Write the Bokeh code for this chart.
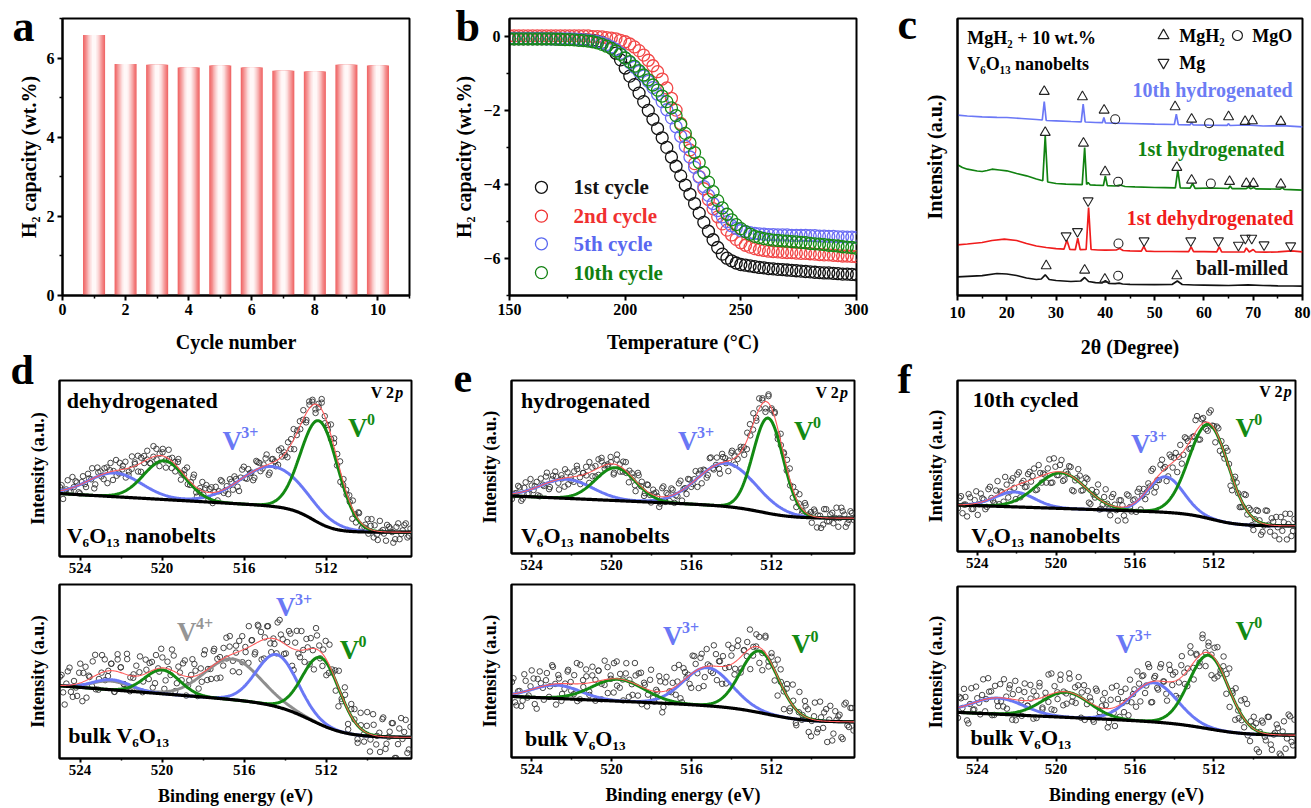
import numpy as np
from bokeh.plotting import figure
from bokeh.models import Label, FixedTicker, Range1d, GridBox
from bokeh.layouts import row, column
from bokeh.core.properties import value
from bokeh.embed import file_html
from bokeh.resources import INLINE

FONT = "Liberation Serif"

# ---------------- (a) cycling capacity ----------------
cycle_number = [1, 2, 3, 4, 5, 6, 7, 8, 9, 10]
h2_capacity = [6.58, 5.85, 5.83, 5.76, 5.81, 5.76, 5.68, 5.66, 5.83, 5.81]

# ---------------- (b) dehydrogenation curves ----------------
temperature = [150, 152, 154, 156, 158, 160, 162, 164, 166, 168, 170, 172, 174, 176, 178, 180,
               182, 184, 186, 188, 190, 192, 194, 196, 198, 200, 202, 204, 206, 208, 210, 212,
               214, 216, 218, 220, 222, 224, 226, 228, 230, 232, 234, 236, 238, 240, 242, 244,
               246, 248, 250, 252, 254, 256, 258, 260, 262, 264, 266, 268, 270, 272, 274, 276,
               278, 280, 282, 284, 286, 288, 290, 292, 294, 296, 298, 300]
cycle_1st = [-0.05, -0.05, -0.05, -0.05, -0.05, -0.05, -0.05, -0.05, -0.05, -0.05, -0.05, -0.06, -0.06, -0.06, -0.06, -0.06,
             -0.07, -0.08, -0.09, -0.11, -0.15, -0.21, -0.30, -0.44, -0.62, -0.84, -1.06, -1.29, -1.52, -1.75, -1.99, -2.23,
             -2.48, -2.73, -2.99, -3.25, -3.50, -3.76, -4.01, -4.26, -4.51, -4.77, -5.02, -5.26, -5.49, -5.70, -5.88, -5.99,
             -6.06, -6.12, -6.16, -6.18, -6.20, -6.22, -6.24, -6.25, -6.27, -6.28, -6.29, -6.30, -6.31, -6.32, -6.33, -6.34,
             -6.35, -6.36, -6.37, -6.38, -6.39, -6.39, -6.40, -6.41, -6.42, -6.42, -6.43, -6.44]
cycle_2nd = [0.03, 0.03, 0.03, 0.03, 0.03, 0.03, 0.03, 0.03, 0.03, 0.03, 0.03, 0.03, 0.03, 0.03, 0.03, 0.03,
             0.03, 0.03, 0.01, 0.01, 0.0, -0.02, -0.03, -0.05, -0.09, -0.13, -0.19, -0.27, -0.37, -0.49, -0.63, -0.78,
             -0.94, -1.14, -1.38, -1.66, -1.98, -2.34, -2.70, -3.06, -3.43, -3.78, -4.11, -4.40, -4.65, -4.87, -5.06, -5.23,
             -5.36, -5.48, -5.57, -5.64, -5.69, -5.73, -5.76, -5.78, -5.80, -5.81, -5.82, -5.83, -5.84, -5.84, -5.85, -5.86,
             -5.86, -5.87, -5.88, -5.89, -5.90, -5.90, -5.91, -5.92, -5.93, -5.93, -5.94, -5.95]
cycle_5th = [-0.04, -0.04, -0.04, -0.04, -0.04, -0.04, -0.04, -0.04, -0.05, -0.05, -0.05, -0.05, -0.05, -0.05, -0.06, -0.07,
             -0.08, -0.09, -0.11, -0.13, -0.16, -0.21, -0.27, -0.34, -0.44, -0.57, -0.69, -0.82, -0.94, -1.06, -1.20, -1.37,
             -1.55, -1.75, -1.97, -2.19, -2.43, -2.69, -2.96, -3.25, -3.53, -3.79, -4.05, -4.29, -4.51, -4.70, -4.87, -5.00,
             -5.11, -5.18, -5.24, -5.27, -5.30, -5.32, -5.33, -5.34, -5.35, -5.35, -5.36, -5.36, -5.36, -5.37, -5.37, -5.37,
             -5.37, -5.38, -5.38, -5.39, -5.39, -5.40, -5.40, -5.41, -5.41, -5.42, -5.42, -5.43]
cycle_10th = [-0.05, -0.05, -0.05, -0.05, -0.05, -0.05, -0.05, -0.05, -0.05, -0.05, -0.06, -0.06, -0.07, -0.07, -0.08, -0.09,
              -0.10, -0.11, -0.13, -0.16, -0.20, -0.25, -0.31, -0.38, -0.47, -0.57, -0.67, -0.79, -0.91, -1.03, -1.16, -1.30,
              -1.44, -1.60, -1.75, -1.92, -2.13, -2.37, -2.61, -2.87, -3.13, -3.40, -3.67, -3.93, -4.19, -4.43, -4.63, -4.80,
              -4.95, -5.08, -5.19, -5.27, -5.34, -5.40, -5.43, -5.46, -5.48, -5.50, -5.51, -5.52, -5.53, -5.54, -5.55, -5.56,
              -5.57, -5.59, -5.60, -5.61, -5.62, -5.64, -5.65, -5.66, -5.68, -5.69, -5.70, -5.72]

# ---------------- (c) XRD patterns (offset intensities) ----------------
ballmilled_2theta = [10, 12, 15, 18, 20, 22, 24, 26, 27, 27.8, 28.6, 30, 33, 35, 35.8, 36.6, 38, 39.3, 40, 40.7,
                     42, 42.8, 43.5, 45, 50, 53.6, 54.6, 55.6, 58, 60, 63, 65, 69, 72, 75, 78, 80]
ballmilled_int = [18.7, 19.2, 19.8, 22.0, 21.5, 20.0, 17.5, 16.0, 16.5, 20.7, 16.0, 15.0, 14.0, 14.5, 18.0, 14.0,
                  12.8, 12.5, 14.7, 12.2, 11.8, 12.3, 11.5, 11.2, 10.8, 11.2, 14.5, 11.0, 10.5, 10.4, 10.2, 10.0,
                  10.6, 10.0, 9.7, 9.5, 9.3]
dehyd_2theta = [10, 12, 15, 17, 19.5, 22, 24, 26, 28, 30, 31.6, 32.2, 32.8, 33.9, 34.4, 34.9, 36.1, 36.6, 37.1,
                38.5, 40, 42.2, 42.9, 43.6, 45, 47.3, 47.8, 48.3, 50, 53, 56.9, 57.4, 57.9, 60, 62.6, 63.1, 63.6,
                66, 68.2, 68.6, 69.2, 70.0, 70.5, 72.5, 75, 77.8, 80]
dehyd_int = [50.7, 51.5, 53.0, 55.0, 56.3, 55.0, 52.0, 49.5, 48.0, 46.8, 46.3, 55.3, 46.0, 45.8, 57.3, 45.8, 46.0,
             88.0, 46.0, 45.5, 45.3, 45.5, 47.0, 45.0, 44.7, 44.4, 49.0, 44.3, 44.0, 44.0, 43.8, 48.7, 43.8, 43.8,
             43.6, 48.7, 43.6, 43.5, 43.6, 47.5, 43.6, 46.0, 43.5, 43.4, 43.6, 44.6, 43.7]
hyd1_2theta = [10, 11, 12, 14, 15, 16, 17, 18.5, 20, 22, 24, 26, 27.3, 27.8, 28.3, 30, 32, 35.3, 35.8, 36.2,
               36.5, 36.9, 38, 39.6, 40, 40.4, 42, 42.9, 44, 46, 50, 52, 54.2, 54.7, 55.2, 57.2, 57.7, 58.2, 61.5,
               65, 65.3, 65.7, 68.6, 69, 69.5, 70.1, 70.6, 75.5, 75.9, 76.3, 80]
hyd1_int = [130.7, 128.0, 126.3, 124.5, 124.0, 125.0, 126.3, 125.5, 124.7, 122.0, 119.7, 116.5, 114.8, 159.7,
            113.5, 112.0, 111.3, 110.8, 148.0, 111.0, 113.0, 110.7, 110.3, 110.0, 119.7, 109.8, 109.5, 110.5,
            109.0, 108.6, 108.0, 107.8, 107.6, 125.3, 107.5, 107.4, 112.0, 107.2, 107.5, 107.0, 109.7, 106.9,
            106.8, 108.5, 106.8, 108.0, 106.6, 106.4, 108.0, 106.2, 105.3]
hyd10_2theta = [10, 12, 15, 18, 20, 23, 26, 27.2, 27.6, 28.0, 30, 33, 35.1, 35.5, 35.9, 38, 39.4, 39.7, 40.0, 42,
                45, 50, 54.0, 54.4, 54.8, 57.2, 57.5, 57.8, 61, 64.7, 65, 65.3, 68.5, 69.5, 72, 75.8, 80]
hyd10_int = [180.3, 179.5, 178.7, 178.2, 178.0, 177.0, 176.0, 175.5, 194.0, 175.0, 174.7, 174.0, 173.6, 191.3,
             173.5, 173.0, 172.8, 178.0, 172.7, 172.3, 172.0, 171.3, 171.0, 181.3, 170.8, 170.7, 173.0, 170.6,
             170.3, 170.2, 171.8, 170.0, 170.5, 170.3, 169.5, 169.8, 168.7]
# phase markers (2theta, height)
mgh2_2theta = [27.6, 35.35, 39.75, 54.15, 57.5, 65.0, 68.35, 69.84, 75.6,
               27.8, 35.56, 39.95, 54.5, 57.5, 65.2, 68.6, 70.04, 75.6,
               28.0, 35.8, 39.9, 54.5]
mgh2_pos = [204, 198.7, 185.3, 188.7, 176.3, 178.7, 174, 174.7, 174,
            163, 152.3, 123.7, 128, 115.3, 114, 112, 112, 111.3,
            29.7, 25.3, 16.3, 19.7]
mgo_2theta = [42.0, 61.05, 42.6, 61.4, 42.66, 42.6]
mgo_pos = [176.3, 172.3, 113.7, 112, 52, 19.7]
mg_2theta = [32.04, 34.34, 36.5, 47.86, 57.33, 62.94, 67.0, 68.4, 69.7, 72.2, 77.6]
mg_pos = [59.7, 64, 94.7, 54.7, 54.7, 54.7, 50.3, 57.3, 57.3, 50.7, 49.7]

# ---------------- (d-f) XPS V 2p fits ----------------
# background: [offset, step, slope, step centre (eV), step width (eV)]
# peaks: [centre (eV), height, sigma (eV)]
# scatter: deviations of the measured points from the fit envelope (two interleaved sweeps)
d_top_bg = [13.8, 13.7, 0.667, 512.6, 0.55]
d_top_v3 = [[522.3, 13.5, 1.3], [514.6, 22.6, 1.6]]
d_top_v0 = [[519.9, 22.0, 1.0], [512.33, 58.0, 0.9]]
d_top_noise = [2, -3, 4, -1, 5, -4, 0, 3, -5, 1, 6, -2, -4, 2, 5, -1, -3, 4, 0, -6, 3, 1, -2, 5, -4, 2, 6, -3, 0, 4,
               -1, -5, 3, 2, -4, 5, -2, 1, -6, 3, 4, -1, 0, 5, -3, 2, -5, 6, 1, -2, 4, -4, 0, 3, -1, 5, -6, 2, -3, 4,
               1, -2, 6, -5, 0, 3, -4, 2, 5, -1, -3, 4, -2, 6, 0, -5, 3, 1, -4, 5, -2, 2, -6, 4, 0, -3, 5, -1, 3, -4,
               1, 6, -2, -5, 2, 4, -3, 0, 5, -6, 3, -1, 2, -4, 6, 1, -3, 4, -5, 2, 0, -2, 5, -1, 3]
d_top_noise2 = [-2, 5, 1, -4, 3, -6, 2, 4, -1, 0, -5, 3, 6, -3, 1, -2, 4, -4, 5, 0, -1, 2, -6, 3, 5, -2, 0, -4, 6, 1,
                -3, 2, 4, -5, 0, 3, -1, 6, -2, -4, 1, 5, -3, 0, 2, -6, 4, -1, 3, 5, -5, 0, -2, 6, 1, -3, 4, 2, -4, -1,
                5, 0, 3, -6, 2, 4, -2, 1, -5, 6, 0, -3, 3, -1, 5, -4, 2, 0, -6, 4, 1, -2, 6, -3, 0, 3, -5, 5, 2, -1,
                -4, 4, 0, -2, 6, -5, 1, 3, -3, 2, 5, -6, 0, 4, -1, 1, -4, 3, 6, -2, 0, -5, 2]
d_bot_bg = [12.1, 18.3, 0.92, 512.6, 0.9]
d_bot_v4 = [[522.5, 5.0, 0.9], [516.57, 23.4, 1.35]]
d_bot_v3 = [[522.45, 5.8, 0.9], [514.4, 30.0, 1.0]]
d_bot_v0 = [[520.0, 13.7, 0.85], [512.25, 38.5, 0.9]]
d_bot_noise = [6, -9, 3, 11, -4, -12, 8, 0, -7, 10, 2, -5, 12, -10, 4, -2, 9, -8, 1, 7, -11, 5, -3, 10, -6, 0, 12,
               -9, 3, -4, 8, -12, 6, 1, -7, 11, -2, 4, -10, 9, -5, 2, 12, -8, 0, -3, 7, -11, 5, 10, -6, 3, -9, 1, 8,
               -12, 4, -4, 11, -1, 6, -10, 2, 9, -7, 0, 12, -5, -8, 3, 10, -2, -11, 7, 1, -6, 9, -3, 4, -12, 11, 0,
               -8, 5, -4, 8, -10, 2, 6, -1, -9, 12, -6, 3, 7, -12, 4, 0, -5, 10, -3, -8, 9, 1, -10, 5, 11, -7, 2, -4,
               8, -11, 6]
d_bot_noise2 = [-7, 10, -1, 5, -12, 8, 3, -4, 11, -9, 0, 6, -3, 12, -6, 2, -10, 7, 4, -8, 9, -2, -11, 5, 1, -5, 10,
                -7, 3, 12, -1, -9, 6, 0, -4, 11, -12, 8, 2, -6, 4, 10, -3, -8, 7, 1, -11, 9, -5, 3, 12, -2, -7, 6, 0,
                -10, 5, 11, -4, 2, -9, 8, -1, -6, 10, 3, -12, 7, 1, -5, 9, -3, 4, -11, 12, 0, -7, 6, -2, 8, -10, 5, 2,
                -4, 11, -8, 1, -1, 9, -6, 3, 10, -12, 4, -3, 7, 0, -9, 12, -5, 2, 8, -11, 6, -2, -7, 10, 1, -4, 5]
e_top_bg = [20.4, 6.3, 0.52, 512.3, 0.8]
e_top_v3 = [[522.25, 11.0, 1.3], [514.25, 25.0, 1.45]]
e_top_v0 = [[519.8, 19.0, 1.0], [512.17, 55.0, 0.75]]
e_top_noise = [-1, 4, -3, 2, 6, -5, 0, 3, -2, 5, -4, 1, -6, 4, 2, -1, 5, -3, 0, 3, -5, 6, -2, 1, 4, -4, 2, -1, 5, -6,
               3, 0, -3, 6, -2, 4, -5, 1, 2, -4, 5, 0, -1, 3, -6, 4, -2, 6, -3, 1, -5, 2, 5, -1, 3, -4, 0, 6, -2, -5,
               4, 1, -3, 5, -6, 2, 3, -1, 4, -4, 0, 6, -3, 2, -5, 5, -2, 1, 3, -6, 4, -1, 0, 5, -4, 2, -3, 6, -1, 1,
               -5, 4, 3, -2, -4, 5, 0, -6, 2, 3, -3, 6, -1, 4, -5, 1, 2, -2, 5, -4, 3, 0, -1]
e_top_noise2 = [3, -1, -5, 4, 0, 6, -3, 2, -2, 5, -6, 1, 3, -4, 0, 4, -1, 6, -5, 2, -3, 5, 1, -2, -6, 3, 0, 4, -4, 2,
                6, -1, -3, 5, -5, 0, 3, -2, 1, 4, -6, 2, 5, -3, 0, -1, 6, -4, 2, 3, -5, 1, -2, 4, 0, -6, 5, -1, 3, -3,
                2, 6, -4, 0, 1, -5, 4, -2, 3, 5, -6, 0, 2, -1, 4, -3, 6, -5, 1, 0, -2, 3, 5, -4, 2, -6, 4, 1, -1, 6,
                -3, 0, 3, -5, 2, -2, 5, 1, -4, 4, 0, -6, 3, -1, 6, -2, 2, -5, 4, 0, -3]
e_bot_bg = [20.5, 8.13, 0.513, 512.0, 1.0]
e_bot_v3 = [[522.75, 7.7, 1.2], [515.2, 22.0, 1.2]]
e_bot_v0 = [[519.67, 12.6, 1.3], [512.6, 35.6, 0.95]]
e_bot_noise = [-5, 8, -2, 10, -9, 3, 6, -11, 1, 7, -4, 11, -7, 2, -10, 5, 9, -3, 0, -8, 12, -6, 4, -1, 8, -11, 3, 6,
               -5, 10, -2, -9, 7, 0, -12, 5, 2, -7, 11, -4, 9, -1, -10, 6, 3, -8, 12, -3, 1, -6, 8, -11, 4, 10, -5,
               0, 7, -9, 2, 11, -2, -7, 5, -12, 9, 1, -4, 6, -10, 3, 8, -6, 12, -1, -9, 4, 0, -5, 10, -8, 2, 7, -3,
               -11, 6, 1, 9, -7, 4, -2, 11, -10, 5, -4, 8, 0, -6, 3, -12, 10, -1, 7, -8, 2, 5, -9, 11, -3, 6, -5, 1,
               -7, 9]
e_bot_noise2 = [8, -3, 11, -10, 4, 1, -7, 9, -12, 5, 2, -5, 10, -1, -8, 6, 0, 12, -9, 3, -4, 7, -11, 1, 10, -6, 4, -2,
                9, -12, 6, 0, -5, 11, -3, 2, -9, 8, -7, 5, 12, -1, -10, 3, 7, -4, 0, 10, -11, 6, -2, 9, -8, 1, 4, -12,
                11, -5, 3, -1, 8, -9, 6, 0, -6, 12, -3, 2, -10, 7, 5, -7, 1, 10, -12, 3, -4, 9, 0, -8, 11, -2, 6, -11,
                4, -5, 8, 2, -9, 12, -6, 1, 7, -3, -10, 5, 0, 11, -7, 3, -1, 9, -12, 6, 2, -4, 10, -8, 1, -5, 7]
f_top_bg = [15.0, 7.19, 0.386, 512.0, 0.7]
f_top_v3 = [[522.1, 8.7, 1.0], [514.44, 20.8, 0.9]]
f_top_v0 = [[519.75, 20.8, 1.25], [512.25, 55.0, 1.0]]
f_top_noise = [4, -6, 1, 7, -3, -8, 5, 2, -4, 8, -1, -7, 6, 0, -5, 3, 8, -2, -6, 4, 1, -8, 7, -3, 2, 5, -7, 0, 6, -4,
               3, -8, 8, -1, -5, 2, 7, -6, 0, 4, -3, 6, -8, 1, 5, -2, -7, 8, 3, -4, 0, 6, -6, 2, -1, 7, -5, 4, -8, 1,
               5, -3, 8, -2, -6, 3, 0, -7, 6, 2, -4, 7, -1, -8, 5, 1, -5, 4, -2, 8, -6, 3, 0, -4, 7, -7, 2, 5, -3, 1,
               -8, 6, -1, 4, -5, 8, 0, -6, 3, -2, 7, -4, 1, 5, -7, 2, -3, 6, 0, -5, 4]
f_top_noise2 = [-3, 7, -8, 2, 5, -1, -6, 4, 0, 8, -5, 1, 6, -7, 3, -2, 7, -4, 0, 5, -8, 2, 6, -3, -6, 4, 1, 8, -5, -1,
                3, -7, 7, 0, -4, 5, -2, 6, -8, 2, 4, -6, 1, 7, -3, -5, 8, 0, -1, 3, -7, 5, 2, -4, 6, -8, 1, 4, -2, 7,
                -6, 0, 3, -5, 8, -1, 2, -7, 6, -3, 4, 1, -8, 5, 0, -4, 7, -2, 3, -6, 8, -5, 1, 2, -7, 6, -1, 4, -3, 0,
                7, -8, 5, -2, 3, -6, 1, 8, -4, 0, 6, -5, 2, -1, 7, -3, 4, -7, 0, 5, -2]
f_bot_bg = [13.0, 6.55, 0.527, 512.0, 1.0]
f_bot_v3 = [[522.95, 9.4, 1.3], [515.03, 22.9, 1.18]]
f_bot_v0 = [[519.5, 14.7, 1.2], [512.25, 43.0, 1.0]]
f_bot_noise = [9, -4, 12, -8, 2, -11, 6, 0, -6, 10, -2, 7, -12, 4, 1, -9, 11, -5, 8, -1, -10, 3, 12, -7, 5, -3, 9,
               -12, 0, 6, -8, 11, -4, 2, -10, 8, 1, -6, 12, -2, -9, 4, 7, -11, 0, 10, -5, 3, -12, 9, -1, 6, -8, 11, 2,
               -4, -10, 7, 0, -7, 12, -3, 5, -11, 9, 1, -6, 10, -9, 3, -2, 8, -12, 6, 4, -5, 11, -1, -8, 7, 0, -10,
               12, -4, 2, -7, 9, -11, 5, 1, -3, 10, -9, 6, -12, 3, 8, -6, 11, -2, -5, 7, -10, 4, 0, 12, -8, 2, -4, 9,
               -11, 5, -1, 6]
f_bot_noise2 = [-6, 11, -2, 8, -12, 4, 1, -9, 10, -4, 6, 0, -11, 7, 3, -7, 12, -3, -5, 9, 2, -10, 5, 11, -1, -8, 6,
                -12, 4, 0, 9, -6, 3, -3, 12, -9, 1, 7, -11, 5, -2, 10, -7, 0, 8, -4, 2, -12, 11, -5, 6, 3, -9, 0, 10,
                -1, -6, 7, 4, -11, 12, -8, 2, 5, -3, 9, -10, 1, 6, -12, 3, 11, -5, -2, 8, -7, 0, 10, -4, 4, -9, 12, -1,
                -6, 7, 2, -11, 9, -3, 5, 0, -8, 11, -12, 6, 1, -5, 8, -2, -10, 4, 12, -7, 3, -1, 9, -4, 0, -9, 10, 5, -6]

# ---------------- colours ----------------
C_BLUE = "#6a78f5"
C_GREEN = "#138a13"
C_GRAY = "#8e8e8e"


def base_style(p, tick_size="16px"):
    p.outline_line_color = "black"
    p.outline_line_width = 2
    p.xgrid.visible = False
    p.ygrid.visible = False
    p.background_fill_color = "white"
    p.border_fill_color = "white"
    for ax in p.axis:
        ax.axis_line_width = 2
        ax.axis_line_color = "black"
        ax.major_tick_line_width = 2
        ax.minor_tick_line_width = 1.5
        ax.major_tick_in = 0
        ax.minor_tick_in = 0
        ax.major_tick_out = 5
        ax.minor_tick_out = 3
        ax.major_label_text_font = FONT
        ax.major_label_text_font_style = "bold"
        ax.major_label_text_font_size = tick_size
        ax.major_label_text_color = "black"
        ax.axis_label_text_font = FONT
        ax.axis_label_text_font_style = "bold"
        ax.axis_label_text_color = "black"


def txt(p, x, y, s, size, color="black", align="left", baseline="middle", style="bold", xo=0, yo=0):
    p.add_layout(Label(x=x, y=y, text=s, text_font=FONT,
                       text_font_size=f"{size}px", text_font_style=style, text_color=color,
                       text_align=align, text_baseline=baseline, x_offset=xo, y_offset=yo))


# ================= (a) =================
pa = figure(width=437, height=362, x_range=(0, 11), y_range=(0, 7),
            min_border_left=62, min_border_right=28, min_border_top=16, min_border_bottom=66,
            output_backend="svg", toolbar_location=None)
base_style(pa)
bar_layers = [(0.70, "#f06a6a"), (0.62, "#f27c7c"), (0.54, "#f49292"), (0.46, "#f7aaaa"),
              (0.38, "#f9c2c2"), (0.30, "#fbd8d8"), (0.22, "#fdeaea"), (0.13, "#fff8f8")]
for w, c in bar_layers:
    pa.vbar(x=cycle_number, top=h2_capacity, width=w, fill_color=c, line_color=None)
pa.xaxis.ticker = FixedTicker(ticks=[0, 2, 4, 6, 8, 10], minor_ticks=[1, 3, 5, 7, 9, 11])
pa.yaxis.ticker = FixedTicker(ticks=[0, 2, 4, 6], minor_ticks=[1, 3, 5, 7])
pa.xaxis.axis_label = "Cycle number"
pa.yaxis.axis_label = "H₂ capacity (wt.%)"
pa.xaxis.axis_label_text_font_size = "20px"
pa.yaxis.axis_label_text_font_size = "20px"
pa.xaxis.major_label_standoff = 3
pa.xaxis.axis_label_standoff = 13
pa.yaxis.major_label_standoff = 3
pa.yaxis.axis_label_standoff = 4

# ================= (b) =================
pb = figure(width=443, height=362, x_range=(150, 300), y_range=(-7, 0.5),
            min_border_left=72, min_border_right=24, min_border_top=16, min_border_bottom=66,
            output_backend="svg", toolbar_location=None)
base_style(pb)
for ys, c in [(cycle_1st, "#141414"), (cycle_2nd, "#f24848"), (cycle_5th, "#6a6cf4"), (cycle_10th, "#168a16")]:
    pb.scatter(temperature, ys, marker="circle", size=12, fill_color=None, line_color=c, line_width=1.3)
pb.xaxis.ticker = FixedTicker(ticks=[150, 200, 250, 300], minor_ticks=[175, 225, 275])
pb.yaxis.ticker = FixedTicker(ticks=[0, -2, -4, -6], minor_ticks=[-1, -3, -5, -7])
pb.xaxis.axis_label = "Temperature (°C)"
pb.yaxis.axis_label = "H₂ capacity (wt.%)"
pb.xaxis.axis_label_text_font_size = "20px"
pb.yaxis.axis_label_text_font_size = "20px"
pb.xaxis.major_label_standoff = 3
pb.xaxis.axis_label_standoff = 13
pb.yaxis.major_label_standoff = 4
pb.yaxis.axis_label_standoff = 5
legend_rows = [("1st cycle", "#141414", -4.07), ("2nd cycle", "#f03030", -4.85),
               ("5th cycle", "#5a68f0", -5.6), ("10th cycle", "#108010", -6.38)]
pb.scatter([163.8] * 4, [r[2] for r in legend_rows], marker="circle", size=12, fill_color=None,
           line_color=[r[1] for r in legend_rows], line_width=1.3)
for name, c, yy in legend_rows:
    txt(pb, 177.7, yy, name, 21, color=c)

# ================= (c) =================
pc = figure(width=431, height=362, x_range=(10, 80), y_range=(0, 277),
            min_border_left=77, min_border_right=9, min_border_top=18, min_border_bottom=67,
            output_backend="svg", toolbar_location=None)
base_style(pc)
pc.line(ballmilled_2theta, ballmilled_int, line_color="#111111", line_width=1.7)
pc.line(dehyd_2theta, dehyd_int, line_color="#f01c1c", line_width=1.7)
pc.line(hyd1_2theta, hyd1_int, line_color="#118211", line_width=1.7)
pc.line(hyd10_2theta, hyd10_int, line_color="#6b78f6", line_width=1.7)
pc.scatter(mgh2_2theta, mgh2_pos, marker="triangle", size=10, fill_color=None, line_color="#222", line_width=1.1)
pc.scatter(mgo_2theta, mgo_pos, marker="circle", size=9, fill_color=None, line_color="#222", line_width=1.1)
pc.scatter(mg_2theta, mg_pos, marker="inverted_triangle", size=10, fill_color=None, line_color="#222", line_width=1.1)
pc.xaxis.ticker = FixedTicker(ticks=[10, 20, 30, 40, 50, 60, 70, 80], minor_ticks=[15, 25, 35, 45, 55, 65, 75])
pc.yaxis.ticker = FixedTicker(ticks=[])
pc.yaxis.major_label_text_font_size = "0px"
pc.yaxis.major_tick_out = 0
pc.yaxis.minor_tick_out = 0
pc.yaxis.major_label_standoff = 0
pc.yaxis.axis_label_standoff = 12
pc.xaxis.axis_label = "2θ (Degree)"
pc.yaxis.axis_label = "Intensity (a.u.)"
pc.xaxis.axis_label_text_font_size = "20px"
pc.yaxis.axis_label_text_font_size = "20px"
pc.xaxis.major_label_standoff = 6
pc.xaxis.axis_label_standoff = 15
txt(pc, 12, 258, "MgH₂ + 10 wt.%", 18)
txt(pc, 12, 232, "V₆O₁₃ nanobelts", 18)
pc.scatter([51.8], [260], marker="triangle", size=11, fill_color=None, line_color="#222", line_width=1.2)
pc.scatter([66.8], [260], marker="circle", size=10, fill_color=None, line_color="#222", line_width=1.2)
pc.scatter([51.8], [233], marker="inverted_triangle", size=11, fill_color=None, line_color="#222", line_width=1.2)
txt(pc, 55.0, 260, "MgH₂", 18)
txt(pc, 69.8, 260, "MgO", 18)
txt(pc, 55.0, 233, "Mg", 18)
txt(pc, 78.0, 206, "10th hydrogenated", 20, color="#6c7cf4", align="right")
txt(pc, 76.3, 147, "1st hydrogenated", 20, color="#118211", align="right")
txt(pc, 78.2, 78, "1st dehydrogenated", 20, color="#f01c1c", align="right")
txt(pc, 77.1, 28, "ball-milled", 20, color="#111111", align="right")


# ================= (d-f) XPS =================
def background(E, par):
    a, H, s, Ec, w = par
    return a + (H + s * (E - Ec)) / (1.0 + np.exp(-(E - Ec) / w))


def peak_sum(E, plist):
    out = np.zeros_like(E)
    for c, h, sg in plist:
        out = out + h * np.exp(-(E - c) ** 2 / (2 * sg ** 2))
    return out


def xps_panel(width, height, left, right, top, bottom, bg, comps, sweeps, bottom_axis):
    p = figure(width=width, height=height, x_range=Range1d(525, 507.85), y_range=(0, 100),
               min_border_left=left, min_border_right=right, min_border_top=top, min_border_bottom=bottom,
               output_backend="svg", toolbar_location=None)
    base_style(p, tick_size="15px")
    p.xaxis.ticker = FixedTicker(ticks=[524, 520, 516, 512], minor_ticks=[522, 518, 514, 510])
    p.xaxis.major_tick_out = 4
    p.xaxis.minor_tick_out = 2
    p.xaxis.major_label_standoff = 2
    p.yaxis.ticker = FixedTicker(ticks=[])
    p.yaxis.major_label_text_font_size = "0px"
    p.yaxis.major_tick_out = 0
    p.yaxis.minor_tick_out = 0
    p.yaxis.major_label_standoff = 0
    p.yaxis.axis_label = "Intensity (a.u.)"
    p.yaxis.axis_label_text_font_size = "18px"
    p.yaxis.axis_label_standoff = 12
    if bottom_axis:
        p.xaxis.axis_label = "Binding energy (eV)"
        p.xaxis.axis_label_text_font_size = "18px"
        p.xaxis.axis_label_standoff = 8
    all_peaks = [pk for plist, _ in comps for pk in plist]
    for k, noise in enumerate(sweeps):
        n = len(noise)
        step = 17.0 / (n - 1)
        En = 507.9 + (np.arange(n) + k / len(sweeps)) * step
        yn = background(En, bg) + peak_sum(En, all_peaks) + np.array(noise, dtype=float)
        p.scatter(En, yn, marker="circle", size=5.5, fill_color=None, line_color="#333333", line_width=0.9)
    Ef = np.linspace(507.85, 525, 500)
    yb = background(Ef, bg)
    for plist, c in comps:
        p.line(Ef, yb + peak_sum(Ef, plist), line_color=c, line_width=3)
    p.line(Ef, yb, line_color="black", line_width=3.2)
    p.line(Ef, yb + peak_sum(Ef, all_peaks), line_color="#ff5a5a", line_width=1.1)
    return p


def sup_label(p, x, y, base, sup, color, size=27):
    txt(p, x, y, base, size, color=color)
    txt(p, x, y, sup, int(size * 0.62), color=color, xo=size * 0.70, yo=size * 0.30)


def v2p(p, x, y):
    txt(p, x, y, "p", 16, style="bold italic", align="right")
    txt(p, x, y, "V 2", 16, align="right", xo=-9)


d1 = xps_panel(440, 220, 59, 29, 18, 26, d_top_bg, [(d_top_v3, C_BLUE), (d_top_v0, C_GREEN)],
               [d_top_noise, d_top_noise2], False)
txt(d1, 524.65, 88.7, "dehydrogenated", 22)
v2p(d1, 508.25, 93)
txt(d1, 524.65, 11.9, "V₆O₁₃ nanobelts", 22)
sup_label(d1, 517.06, 65.7, "V", "3+", C_BLUE)
sup_label(d1, 510.94, 73, "V", "0", C_GREEN)

d2 = xps_panel(440, 226, 59, 29, 2, 49, d_bot_bg,
               [(d_bot_v4, C_GRAY), (d_bot_v3, C_BLUE), (d_bot_v0, C_GREEN)], [d_bot_noise, d_bot_noise2], True)
txt(d2, 524.57, 13.1, "bulk V₆O₁₃", 22)
sup_label(d2, 519.27, 72.9, "V", "4+", "#959595")
sup_label(d2, 514.45, 86.9, "V", "3+", C_BLUE)
sup_label(d2, 511.35, 62.6, "V", "0", C_GREEN)

e1 = xps_panel(440, 220, 71, 26, 18, 29, e_top_bg, [(e_top_v3, C_BLUE), (e_top_v0, C_GREEN)],
               [e_top_noise, e_top_noise2], False)
txt(e1, 524.53, 88.5, "hydrogenated", 22)
v2p(e1, 508.17, 92.9)
txt(e1, 524.53, 10.2, "V₆O₁₃ nanobelts", 22)
sup_label(e1, 516.67, 65, "V", "3+", C_BLUE)
sup_label(e1, 510.87, 70.8, "V", "0", C_GREEN)

e2 = xps_panel(440, 226, 71, 26, 2, 51, e_bot_bg, [(e_bot_v3, C_BLUE), (e_bot_v0, C_GREEN)],
               [e_bot_noise, e_bot_noise2], True)
txt(e2, 524.33, 11.1, "bulk V₆O₁₃", 22)
sup_label(e2, 517.42, 70.3, "V", "3+", C_BLUE)
sup_label(e2, 511.0, 65.4, "V", "0", C_GREEN)

f1 = xps_panel(431, 220, 77, 16, 18, 31, f_top_bg, [(f_top_v3, C_BLUE), (f_top_v0, C_GREEN)],
               [f_top_noise, f_top_noise2], False)
txt(f1, 524.22, 88.9, "10th cycled", 22)
v2p(f1, 508.04, 93.8)
txt(f1, 524.3, 9.1, "V₆O₁₃ nanobelts", 22)
sup_label(f1, 516.2, 62.6, "V", "3+", C_BLUE)
sup_label(f1, 510.9, 72.4, "V", "0", C_GREEN)

f2 = xps_panel(431, 226, 77, 16, 4, 51, f_bot_bg, [(f_bot_v3, C_BLUE), (f_bot_v0, C_GREEN)],
               [f_bot_noise, f_bot_noise2], True)
txt(f2, 524.34, 11.7, "bulk V₆O₁₃", 22)
sup_label(f2, 516.97, 66.4, "V", "3+", C_BLUE)
sup_label(f2, 510.9, 74.2, "V", "0", C_GREEN)

main = column(row(pa, pb, pc), row(column(d1, d2), column(e1, e2), column(f1, f2)))

# transparent overlay carrying the panel letters (they sit in the figures' margins)
ov = figure(width=1311, height=808, x_range=Range1d(0, 1311), y_range=Range1d(808, 0),
            min_border=0, min_border_left=0, min_border_right=0, min_border_top=0, min_border_bottom=0,
            x_axis_location=None, y_axis_location=None, toolbar_location=None, output_backend="svg")
ov.background_fill_alpha = 0
ov.border_fill_alpha = 0
ov.outline_line_color = None
ov.xgrid.visible = False
ov.ygrid.visible = False
ov.text(x=[12, 455, 897], y=[26, 26, 24], text=["a", "b", "c"], text_font=value(FONT),
        text_font_style="bold", text_font_size="44px", text_baseline="middle", text_color="black")
ov.text(x=[10, 453, 897], y=[369, 377, 378], text=["d", "e", "f"], text_font=value(FONT),
        text_font_style="bold", text_font_size="42px", text_baseline="middle", text_color="black")

page = GridBox(children=[(main, 0, 0), (ov, 0, 0)])
open("out.html", "w").write(file_html(page, INLINE))
